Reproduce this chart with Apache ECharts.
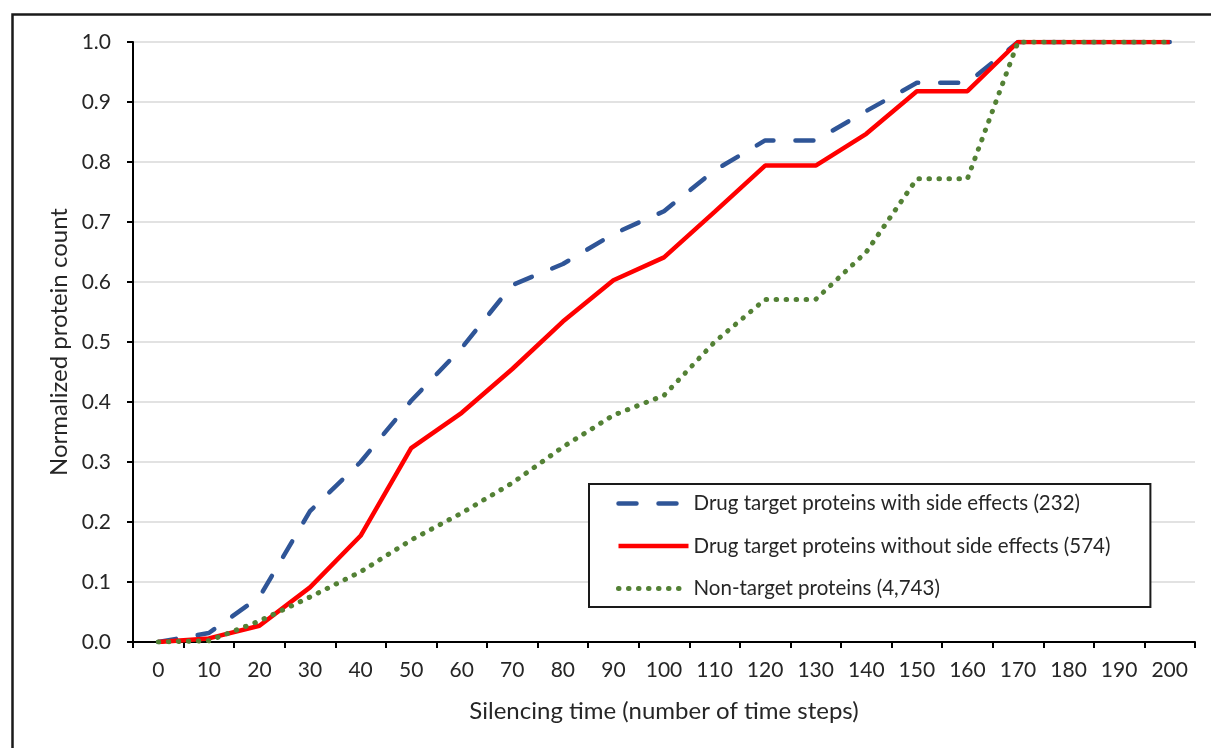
<!DOCTYPE html>
<html>
<head>
<meta charset="utf-8">
<script src="https://cdn.jsdelivr.net/npm/echarts@6/dist/echarts.min.js"></script>
<style>
html,body{margin:0;padding:0;background:#fff;}
#c{width:1211px;height:748px;}
</style>
</head>
<body>
<div id="c"></div>
<script>
const categories = ['0','10','20','30','40','50','60','70','80','90','100','110','120','130','140','150','160','170','180','190','200'];
const withSideEffects = [0, 0.015, 0.075, 0.218, 0.3, 0.402, 0.49, 0.595, 0.63, 0.68, 0.718, 0.786, 0.836, 0.836, 0.885, 0.932, 0.932, 1, 1, 1, 1];
const withoutSideEffects = [0, 0.006, 0.027, 0.091, 0.177, 0.323, 0.382, 0.455, 0.534, 0.603, 0.641, 0.717, 0.794, 0.794, 0.847, 0.918, 0.918, 1, 1, 1, 1];
const nonTarget = [0, 0.002, 0.035, 0.075, 0.117, 0.17, 0.215, 0.265, 0.325, 0.378, 0.411, 0.5, 0.571, 0.571, 0.65, 0.772, 0.772, 1, 1, 1, 1];
const seriesNames = ['Drug target proteins with side effects (232)', 'Drug target proteins without side effects (574)', 'Non-target proteins (4,743)'];
const yTicks = [0, 0.1, 0.2, 0.3, 0.4, 0.5, 0.6, 0.7, 0.8, 0.9, 1.0];

const FONT = 'Lato';
const BLUE = '#2F5597', RED = '#FF0000', GREEN = '#538135';
const blueLine = {color: BLUE, width: 4.5, type: [18, 22], cap: 'round'};
const redLine = {color: RED, width: 4.5, type: 'solid'};
const greenLine = {color: GREEN, width: 5, type: [0.5, 9.5], cap: 'round'};

const chart = echarts.init(document.getElementById('c'), null, {renderer: 'canvas'});
chart.setOption({
  animation: false,
  backgroundColor: '#fff',
  textStyle: {fontFamily: FONT},
  graphic: [{
    type: 'rect', left: 10, top: 12, z: 100, silent: true,
    shape: {x: 0, y: 0, width: 1220, height: 760},
    style: {fill: 'none', stroke: '#1a1a1a', lineWidth: 2.5}
  }],
  grid: {left: 133, right: 16, top: 42, bottom: 106, containLabel: false},
  legend: {
    orient: 'vertical', left: 589, top: 484,
    itemWidth: 70, itemHeight: 20, itemGap: 21.5,
    padding: [9, 40, 8, 27],
    backgroundColor: '#fff', borderColor: '#1a1a1a', borderWidth: 2,
    textStyle: {fontFamily: FONT, fontSize: 20.5, color: '#262626'},
    data: [
      {name: seriesNames[0], itemStyle: {opacity: 0}, lineStyle: blueLine},
      {name: seriesNames[1], itemStyle: {opacity: 0}, lineStyle: redLine},
      {name: seriesNames[2], itemStyle: {opacity: 0}, lineStyle: greenLine}
    ]
  },
  xAxis: {
    type: 'category', data: categories, boundaryGap: true,
    name: 'Silencing time (number of time steps)', nameLocation: 'middle', nameGap: 57,
    nameTextStyle: {fontFamily: FONT, fontSize: 24, color: '#262626'},
    axisLine: {lineStyle: {color: '#000', width: 2}},
    axisTick: {show: true, length: 6, lineStyle: {color: '#000', width: 2}},
    axisLabel: {interval: 0, margin: 18, fontFamily: FONT, fontSize: 21, color: '#262626'},
    splitLine: {show: false}
  },
  yAxis: {
    type: 'value', min: 0, max: 1, interval: 0.1,
    name: 'Normalized protein count', nameLocation: 'middle', nameGap: 60,
    nameTextStyle: {fontFamily: FONT, fontSize: 24, color: '#262626'},
    axisLine: {show: true, lineStyle: {color: '#000', width: 2}},
    axisTick: {show: true, length: 6, lineStyle: {color: '#000', width: 2}},
    axisLabel: {margin: 22, fontFamily: FONT, fontSize: 21, color: '#262626',
      formatter: v => yTicks.includes(+v.toFixed(1)) ? v.toFixed(1) : ''},
    splitLine: {show: true, lineStyle: {color: '#d9d9d9', width: 1.5}}
  },
  series: [
    {name: seriesNames[0], type: 'line', data: withSideEffects, symbol: 'none', z: 2,
     itemStyle: {color: BLUE}, lineStyle: blueLine},
    {name: seriesNames[1], type: 'line', data: withoutSideEffects, symbol: 'none', z: 3,
     itemStyle: {color: RED}, lineStyle: redLine},
    {name: seriesNames[2], type: 'line', data: nonTarget, symbol: 'none', z: 4,
     itemStyle: {color: GREEN}, lineStyle: greenLine}
  ]
});
</script>
</body>
</html>
